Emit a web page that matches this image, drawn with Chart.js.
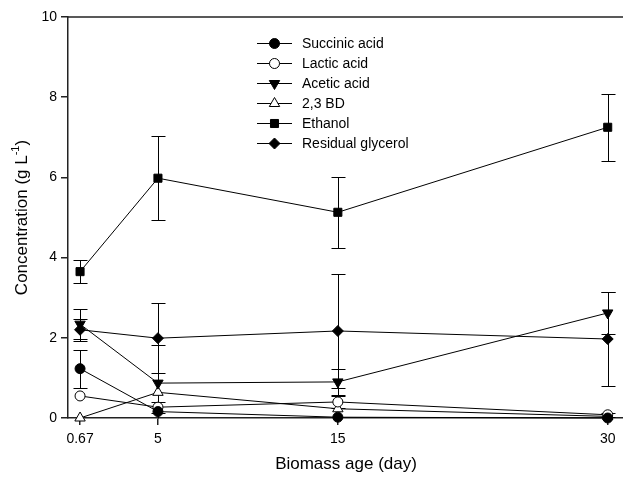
<!DOCTYPE html>
<html>
<head>
<meta charset="utf-8">
<script src="https://cdn.jsdelivr.net/npm/chart.js@4.4.1/dist/chart.umd.min.js"></script>
<style>
  html, body { margin: 0; padding: 0; background: #fff; }
  #wrap { width: 623px; height: 477px; position: relative; }
</style>
</head>
<body>
<div id="wrap"><canvas id="chart"></canvas></div>
<script>
// Biomass age (day)
var ages = [0.67, 5, 15, 30];
var xTicks = [0.67, 5, 15, 30];
var yTicks = [0, 2, 4, 6, 8, 10];

// Concentration (g/L) and error bars
var succinic = [1.23, 0.16, 0.02, 0.0];
var succinicErr = [0.47, 0.0, 0.0, 0.0];
var lactic = [0.55, 0.27, 0.40, 0.08];
var lacticErr = [0.0, 0.14, 0.15, 0.05];
var acetic = [2.34, 0.87, 0.90, 2.62];
var aceticErr = [0.38, 0.94, 0.33, 0.52];
var bd = [0.0, 0.64, 0.23, 0.04];
var bdErr = [0.0, 0.0, 0.0, 0.0];
var ethanol = [3.65, 5.98, 5.13, 7.25];
var ethanolErr = [0.29, 1.04, 0.89, 0.84];
var glycerol = [2.20, 1.99, 2.17, 1.97];
var glycerolErr = [0.27, 0.87, 1.41, 1.18];

var seriesNames = ['Succinic acid', 'Lactic acid', 'Acetic acid', '2,3 BD', 'Ethanol', 'Residual glycerol'];

var FONT = '"Liberation Sans", Arial, sans-serif';
var AXIS = '#222';

function pts(vals) {
	return vals.map(function (v, i) { return { x: ages[i], y: v }; });
}

function makeSet(label, vals, errs, style, fill, radius, rotation) {
	return {
		label: label,
		data: pts(vals),
		errors: errs,
		borderColor: '#000',
		borderWidth: 1,
		backgroundColor: fill,
		pointStyle: style,
		pointRadius: radius,
		pointHoverRadius: radius,
		pointRotation: rotation || 0,
		pointBackgroundColor: fill,
		pointBorderColor: '#000',
		pointBorderWidth: 1,
		tension: 0,
		fill: false,
		clip: false,
	};
}

var datasets = [
	makeSet(seriesNames[0], succinic, succinicErr, 'circle', '#000', 5),
	makeSet(seriesNames[1], lactic, lacticErr, 'circle', '#fff', 5),
	makeSet(seriesNames[2], acetic, aceticErr, 'triangle', '#000', 6, 180),
	makeSet(seriesNames[3], bd, bdErr, 'triangle', '#fff', 6),
	makeSet(seriesNames[4], ethanol, ethanolErr, 'rect', '#000', 5.7),
	makeSet(seriesNames[5], glycerol, glycerolErr, 'rectRot', '#000', 5.5),
];

// Error bars, drawn behind the lines and markers
var errorBars = {
	id: 'errorBars',
	beforeDatasetsDraw: function (chart) {
		var ctx = chart.ctx;
		var xs = chart.scales.x, ys = chart.scales.y;
		ctx.save();
		ctx.strokeStyle = '#000';
		ctx.lineWidth = 1;
		chart.data.datasets.forEach(function (ds) {
			ds.data.forEach(function (p, i) {
				var e = ds.errors[i];
				if (!e) return;
				var px = Math.round(xs.getPixelForValue(p.x)) + 0.5;
				var top = Math.round(ys.getPixelForValue(p.y + e)) + 0.5;
				var bot = Math.round(ys.getPixelForValue(Math.max(p.y - e, 0))) + 0.5;
				ctx.beginPath();
				ctx.moveTo(px, top); ctx.lineTo(px, bot);
				ctx.moveTo(px - 7, top); ctx.lineTo(px + 7, top);
				if (p.y - e > 0) { ctx.moveTo(px - 7, bot); ctx.lineTo(px + 7, bot); }
				ctx.stroke();
			});
		});
		ctx.restore();
	}
};

// Frame top line, axis titles and the legend
var decorations = {
	id: 'decorations',
	afterDraw: function (chart) {
		var ctx = chart.ctx;
		var area = chart.chartArea;
		ctx.save();

		ctx.strokeStyle = AXIS;
		ctx.lineWidth = 1.5;
		ctx.beginPath();
		ctx.moveTo(area.left, area.top);
		ctx.lineTo(area.right, area.top);
		ctx.stroke();

		ctx.fillStyle = '#000';
		ctx.textBaseline = 'middle';

		// x title
		ctx.font = '17px ' + FONT;
		ctx.textAlign = 'center';
		ctx.fillText('Biomass age (day)', 346, 464);

		// y title with superscript
		var main = 'Concentration (g L', sup = '-1', close = ')';
		ctx.font = '17px ' + FONT;
		var w1 = ctx.measureText(main).width, w3 = ctx.measureText(close).width;
		ctx.font = '11px ' + FONT;
		var w2 = ctx.measureText(sup).width;
		var start = -(w1 + w2 + w3) / 2;
		ctx.translate(22, (area.top + area.bottom) / 2);
		ctx.rotate(-Math.PI / 2);
		ctx.textAlign = 'left';
		ctx.font = '17px ' + FONT;
		ctx.fillText(main, start, 0);
		ctx.font = '11px ' + FONT;
		ctx.fillText(sup, start + w1, -6);
		ctx.font = '17px ' + FONT;
		ctx.fillText(close, start + w1 + w2, 0);
		ctx.setTransform(1, 0, 0, 1, 0, 0);

		// legend
		ctx.font = '14px ' + FONT;
		ctx.textAlign = 'left';
		chart.data.datasets.forEach(function (ds, i) {
			var y = 43 + i * 20;
			ctx.strokeStyle = '#000';
			ctx.lineWidth = 1;
			ctx.beginPath();
			ctx.moveTo(257, y + 0.5);
			ctx.lineTo(292, y + 0.5);
			ctx.stroke();
			ctx.fillStyle = ds.pointBackgroundColor;
			Chart.helpers.drawPoint(ctx, {
				pointStyle: ds.pointStyle,
				radius: ds.pointRadius,
				rotation: ds.pointRotation,
				borderWidth: 1,
			}, 274.5, y + 0.5);
			ctx.fillStyle = '#000';
			ctx.fillText(ds.label, 302, y + 1);
		});

		ctx.restore();
	}
};

new Chart(document.getElementById('chart'), {
	type: 'line',
	data: { datasets: datasets },
	options: {
		responsive: true,
		maintainAspectRatio: false,
		animation: false,
		layout: { autoPadding: false, padding: { top: 17, right: 0, left: 0, bottom: 0 } },
		plugins: {
			legend: { display: false },
			tooltip: { enabled: false },
		},
		scales: {
			x: {
				type: 'linear',
				min: 0,
				max: 30.85,
				afterBuildTicks: function (scale) {
					scale.ticks = xTicks.map(function (v) { return { value: v }; });
				},
				afterFit: function (scale) {
					scale.height = 59;
					scale.paddingLeft = 0;
					scale.paddingRight = 0;
				},
				ticks: {
					autoSkip: false,
					maxRotation: 0,
					padding: 6,
					color: '#000',
					font: { family: FONT, size: 14 },
					callback: function (v) { return String(v); },
				},
				grid: {
					drawOnChartArea: false,
					drawTicks: true,
					tickLength: 7,
					color: AXIS,
					lineWidth: 1.5,
				},
				border: { display: true, color: AXIS, width: 1.5 },
			},
			y: {
				type: 'linear',
				min: 0,
				max: 10,
				afterBuildTicks: function (scale) {
					scale.ticks = yTicks.map(function (v) { return { value: v }; });
				},
				afterFit: function (scale) {
					scale.width = 68;
					scale.paddingTop = 0;
					scale.paddingBottom = 0;
				},
				ticks: {
					padding: 4,
					color: '#000',
					font: { family: FONT, size: 14 },
				},
				grid: {
					drawOnChartArea: false,
					drawTicks: true,
					tickLength: 7,
					color: AXIS,
					lineWidth: 1.5,
				},
				border: { display: true, color: AXIS, width: 1.5 },
			},
		},
	},
	plugins: [errorBars, decorations],
});
</script>
</body>
</html>
